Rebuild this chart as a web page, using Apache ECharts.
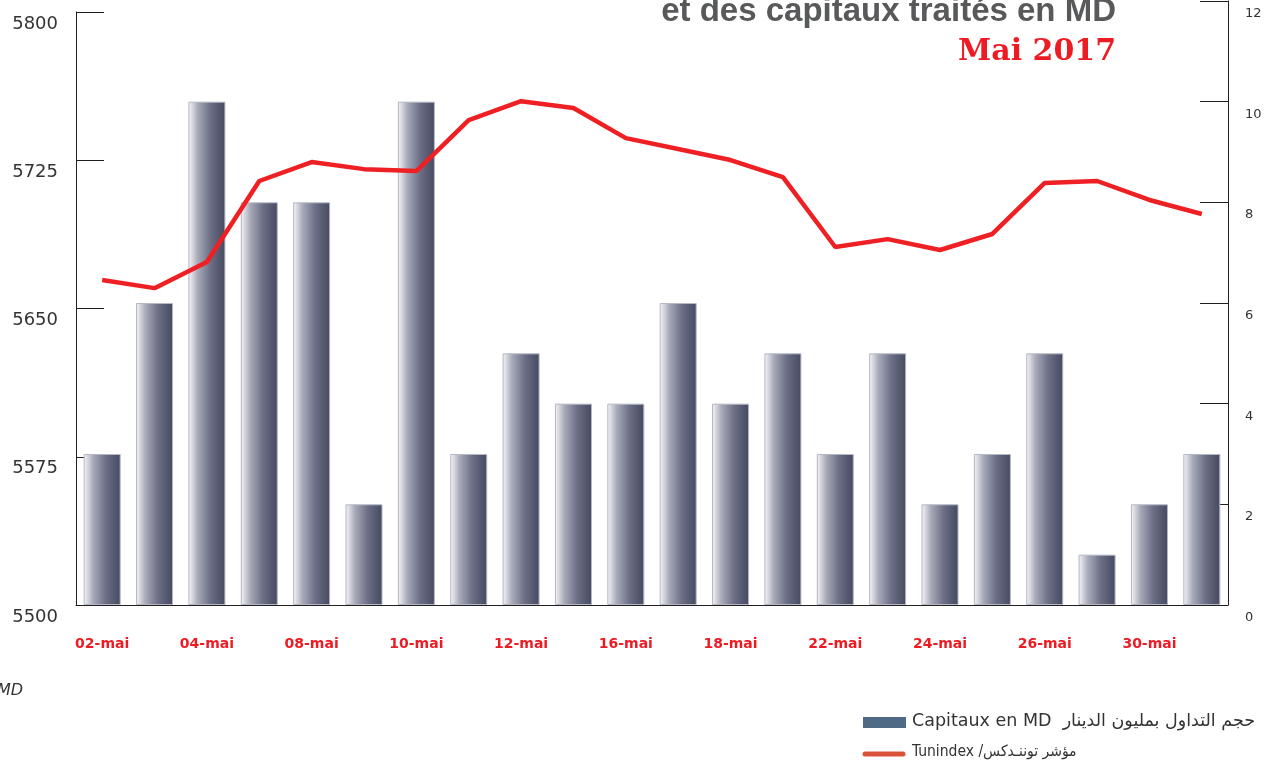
<!DOCTYPE html>
<html>
<head>
<meta charset="utf-8">
<script src="https://cdn.jsdelivr.net/npm/echarts/dist/echarts.min.js"></script>
<style>
  html, body { margin: 0; padding: 0; background: #fff; }
  #chart { width: 1278px; height: 762px; }
</style>
</head>
<body>
<div id="chart"></div>
<script>
// jours de bourse - mai 2017
var days = ['02-mai', '03-mai', '04-mai', '05-mai', '08-mai', '09-mai', '10-mai', '11-mai',
  '12-mai', '15-mai', '16-mai', '17-mai', '18-mai', '19-mai', '22-mai', '23-mai',
  '24-mai', '25-mai', '26-mai', '29-mai', '30-mai', '31-mai'];
// capitaux traités en MD (axe droit)
var capitaux = [3, 6, 10, 8, 8, 2, 10, 3, 5, 4, 4, 6, 4, 5, 3, 5, 2, 3, 5, 1, 2, 3];
// Tunindex (axe gauche)
var tunindex = [5664.4, 5660.3, 5673.5, 5714.5, 5724.1, 5720.5, 5719.5, 5745.3, 5754.9, 5751.4,
  5736.2, 5730.7, 5725.1, 5716.5, 5681.1, 5685.1, 5679.6, 5687.7, 5713.5, 5714.5, 5704.9, 5697.8];

var axisColor = '#231f20';

var chart = echarts.init(document.getElementById('chart'));
var option = {
  animation: false,
  backgroundColor: '#fff',
  grid: [
    { left: 76, right: 50, top: 12, bottom: 157 },
    { left: 76, right: 50, top: 1, bottom: 157 }
  ],
  xAxis: [
    {
      type: 'category', gridIndex: 0, data: days,
      axisLine: { lineStyle: { color: axisColor, width: 1 } },
      axisTick: { inside: true, length: 13, lineStyle: { color: axisColor } },
      axisLabel: {
        interval: 1, margin: 32, color: '#ed1c24',
        fontFamily: 'DejaVu Sans', fontWeight: 'bold', fontSize: 14
      }
    },
    {
      type: 'category', gridIndex: 1, data: days, show: false
    }
  ],
  yAxis: [
    {
      type: 'value', gridIndex: 0, position: 'left',
      min: 5500, max: 5800, interval: 75,
      splitLine: { show: false },
      axisLine: { show: true, lineStyle: { color: axisColor } },
      axisTick: { show: true, inside: true, length: 28, lineStyle: { color: axisColor } },
      axisLabel: {
        margin: 18, color: '#333', fontFamily: 'DejaVu Sans', fontSize: 18,
        verticalAlign: 'top', padding: [3, 0, 0, 0],
        formatter: function (v) { return String(v); }
      }
    },
    {
      type: 'value', gridIndex: 1, position: 'right',
      min: 0, max: 12, interval: 2,
      splitLine: { show: false },
      axisLine: { show: true, lineStyle: { color: axisColor } },
      axisTick: { show: true, inside: true, length: 28, lineStyle: { color: axisColor } },
      axisLabel: {
        margin: 17, color: '#333', fontFamily: 'DejaVu Sans', fontSize: 13,
        verticalAlign: 'top', padding: [6, 0, 0, 0]
      }
    }
  ],
  series: [
    {
      name: 'Capitaux en MD',
      type: 'bar',
      xAxisIndex: 1, yAxisIndex: 1,
      barWidth: 37,
      data: capitaux,
      itemStyle: {
        color: new echarts.graphic.LinearGradient(0, 0, 1, 0, [
          { offset: 0, color: '#f7f7f9' },
          { offset: 0.25, color: '#a9abba' },
          { offset: 0.6, color: '#6b6e85' },
          { offset: 1, color: '#454a61' }
        ]),
        borderColor: '#b4b7c4',
        borderWidth: 1
      }
    },
    {
      name: 'Tunindex',
      type: 'line',
      xAxisIndex: 0, yAxisIndex: 0,
      data: tunindex,
      showSymbol: false,
      lineStyle: { color: '#ee2024', width: 4.5 },
      z: 5
    }
  ],
  graphic: [
    {
      type: 'text', right: 162, top: -5,
      style: {
        text: 'et des capitaux traités en MD',
        font: 'bold 33px "Liberation Sans"', fill: '#58595b'
      }
    },
    {
      type: 'text', right: 162, top: 37,
      style: {
        text: 'Mai 2017',
        font: 'bold 30px "DejaVu Serif"', fill: '#ed1c24'
      }
    },
    {
      type: 'text', left: -3, top: 683,
      style: { text: 'MD', font: 'italic 16px "DejaVu Sans"', fill: '#333' }
    },
    {
      type: 'rect', shape: { x: 863, y: 717, width: 43, height: 11 },
      style: { fill: '#4f6a85' }
    },
    {
      type: 'text', left: 912, top: 712,
      style: {
        text: 'Capitaux en MD  حجم التداول بمليون الدينار',
        font: '17.5px "DejaVu Sans"', fill: '#333'
      }
    },
    {
      type: 'line', shape: { x1: 865, y1: 754, x2: 903, y2: 754 },
      style: { stroke: '#d9533b', lineWidth: 5, lineCap: 'round' }
    },
    {
      type: 'text', left: 912, top: 744,
      style: {
        text: 'Tunindex /مؤشر توننـدكس',
        font: '15.5px "DejaVu Sans Condensed", "DejaVu Sans"', fill: '#333'
      }
    }
  ]
};
chart.setOption(option);
</script>
</body>
</html>
